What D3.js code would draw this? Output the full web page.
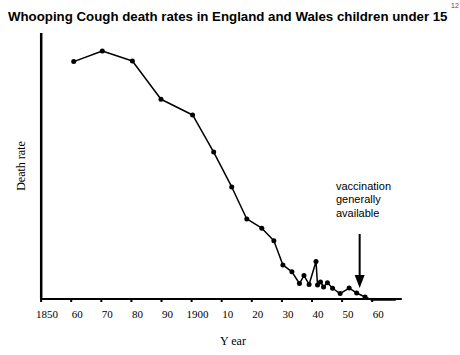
<!DOCTYPE html>
<html>
<head>
<meta charset="utf-8">
<script src="https://cdn.jsdelivr.net/npm/d3@7"></script>
<style>
  html, body { margin: 0; padding: 0; background: #fff; }
  svg { display: block; }
</style>
</head>
<body>
<svg id="chart" width="460" height="355"></svg>
<script>
// ---- data ----
const years = [1861, 1870.5, 1880.5, 1890, 1900.5, 1907.5, 1913.5, 1918.5, 1923.5, 1927.5,
               1930.5, 1933.5, 1936, 1937.5, 1939.2, 1941.5, 1942, 1943, 1944, 1945.3,
               1947, 1949.5, 1952.5, 1955, 1957.8, 1960, 1968];
const deathRate = [1259, 1315, 1262, 1060, 977, 781, 597, 428, 379, 313,
                   185, 149, 87, 129, 82, 203, 79, 95, 69, 91,
                   62, 34, 63, 37, 16, 0, 0];
const tickYears = [1850, 1860, 1870, 1880, 1890, 1900, 1910, 1920, 1930, 1940, 1950, 1960];
const tickLabels = ["1850", "60", "70", "80", "90", "1900", "10", "20", "30", "40", "50", "60"];
const titleText = "Whooping Cough death rates in England and Wales children under 15";
const refNote = "12";
const yLabel = "Death rate";
const xLabel = "Y ear";
const noteLines = ["vaccination", "generally", "available"];
const vaccYear = 1956;
const vaccArrowTip = 63;

// ---- scales ----
const svg = d3.select("#chart");
const x = d3.scaleLinear().domain([1850, 1970]).range([40.6, 401.8]);
const y = d3.scaleLinear().domain([0, 1410]).range([300, 33]);

// title (scaled horizontally to the reference width)
const titleG = svg.append("g");
const title = titleG.append("text")
  .attr("x", 0).attr("y", 0)
  .attr("font-family", "Liberation Sans, Arial, sans-serif")
  .attr("font-weight", "bold").attr("font-size", 13.5)
  .text(titleText);
const tw = title.node().getComputedTextLength();
titleG.attr("transform", `translate(8,20.5) scale(${440 / tw},1)`);

svg.append("text")
  .attr("x", 451).attr("y", 7.5)
  .attr("font-family", "Liberation Sans, Arial, sans-serif")
  .attr("font-size", 7).attr("fill", "#b01818")
  .text(refNote);

// axes
const axisY = y(0) - 1;
const xAxis = d3.axisBottom(x)
  .tickValues(tickYears)
  .tickFormat((d, i) => tickLabels[i])
  .tickSize(3).tickSizeOuter(0);
const gx = svg.append("g").attr("transform", `translate(0,${axisY})`).call(xAxis);
gx.select(".domain").remove();
gx.selectAll(".tick line").attr("stroke", "#000").attr("stroke-width", 2);
gx.selectAll(".tick text")
  .attr("font-family", "Liberation Serif, Times New Roman, serif")
  .attr("font-size", 11).attr("fill", "#000")
  .attr("dx", 6).attr("y", 11).attr("dy", "0.71em");

svg.append("line")
  .attr("x1", x(1850)).attr("x2", x(1970))
  .attr("y1", axisY).attr("y2", axisY)
  .attr("stroke", "#000").attr("stroke-width", 2);
svg.append("line")
  .attr("x1", x(1850) + 0.6).attr("x2", x(1850) + 0.6)
  .attr("y1", y(1410)).attr("y2", axisY)
  .attr("stroke", "#000").attr("stroke-width", 2.5);

// axis titles
svg.append("text")
  .attr("transform", `translate(25,166) rotate(-90)`)
  .attr("text-anchor", "middle")
  .attr("font-family", "Liberation Serif, Times New Roman, serif")
  .attr("font-size", 12)
  .text(yLabel);
svg.append("text")
  .attr("x", 233).attr("y", 345)
  .attr("text-anchor", "middle")
  .attr("font-family", "Liberation Serif, Times New Roman, serif")
  .attr("font-size", 12)
  .text(xLabel);

// data line
const pts = years.map((yr, i) => ({ yr, v: deathRate[i] }));
svg.append("path")
  .datum(pts)
  .attr("fill", "none").attr("stroke", "#000").attr("stroke-width", 1.5)
  .attr("stroke-linejoin", "round")
  .attr("d", d3.line().x(d => x(d.yr)).y(d => y(d.v)));
svg.append("g").selectAll("circle")
  .data(pts.slice(0, pts.length - 2))
  .join("circle")
  .attr("cx", d => x(d.yr)).attr("cy", d => y(d.v))
  .attr("r", 2.5).attr("fill", "#000");

// annotation
const note = svg.append("text")
  .attr("font-family", "Liberation Sans, Arial, sans-serif")
  .attr("font-size", 11).attr("fill", "#000");
noteLines.forEach((t, i) => {
  note.append("tspan").attr("x", 336).attr("y", 189.5 + i * 13.5).text(t);
});
const ax = x(vaccYear);
const tipY = y(vaccArrowTip);
svg.append("line")
  .attr("x1", ax).attr("x2", ax)
  .attr("y1", 234).attr("y2", tipY - 10)
  .attr("stroke", "#000").attr("stroke-width", 2);
svg.append("path")
  .attr("d", `M${ax - 5},${tipY - 13} L${ax + 5},${tipY - 13} L${ax},${tipY} Z`)
  .attr("fill", "#000");
</script>
</body>
</html>
